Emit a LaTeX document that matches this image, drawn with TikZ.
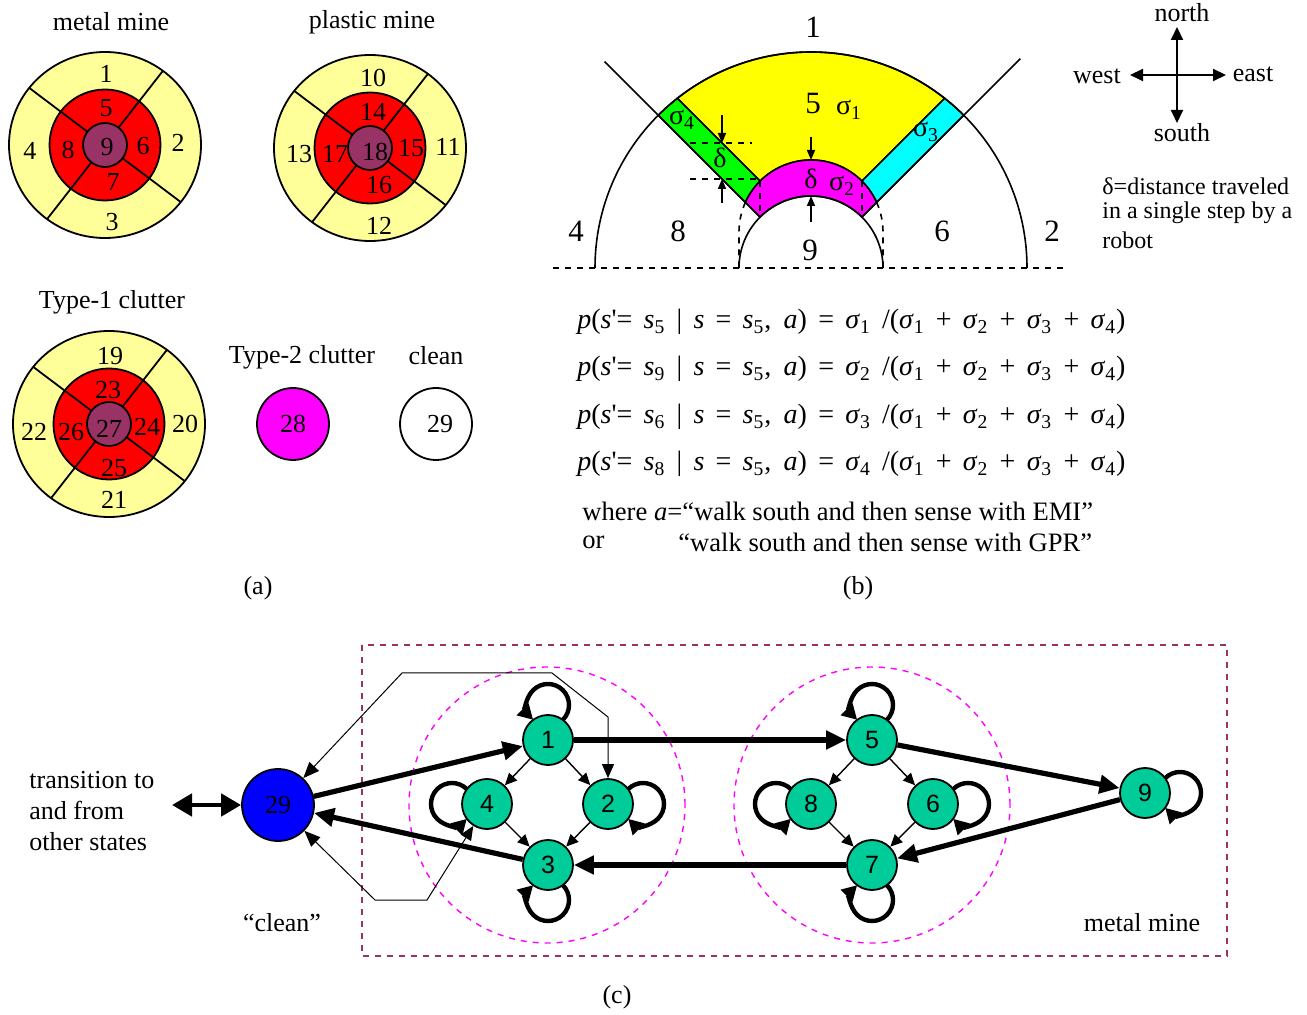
\documentclass[tikz,border=0pt]{standalone}
\usepackage{fontspec}
\setmainfont{Liberation Serif}
\newfontfamily\helvfont{Liberation Sans}
\usetikzlibrary{arrows.meta,calc}
\definecolor{rimyellow}{HTML}{FFFF99}
\definecolor{corered}{HTML}{FF0000}
\definecolor{hubplum}{HTML}{993366}
\definecolor{stgreen}{HTML}{00CC99}
\definecolor{pyellow}{HTML}{FFFF00}
\definecolor{pgreen}{HTML}{00FF00}
\definecolor{pcyan}{HTML}{00FFFF}
\definecolor{pmagenta}{HTML}{FF00FF}
\definecolor{pblue}{HTML}{0000FF}
\newcommand{\ssub}[1]{\textit{s}\textsubscript{#1}}
\newcommand{\isig}[1]{\textit{σ}\textsubscript{#1}}
\newcommand{\usig}[1]{σ\textsubscript{#1}}

\begin{document}
\begin{tikzpicture}[x=0.5pt,y=-0.5pt,font=\fontsize{13}{15.3}\selectfont,
  ring/.style={line width=0.9pt},
  num/.style={inner sep=0pt},
  bnum/.style={inner sep=0pt,font=\fontsize{15.5}{17}\selectfont},
  gk/.style={inner sep=0pt,font=\fontsize{14}{16}\selectfont},
  darr/.style={-{Triangle[length=5pt,width=4pt]},line width=0.8pt},
  carr/.style={-{Triangle[length=6.5pt,width=6pt]},line width=1pt},
  eqn/.style={anchor=west,inner sep=0pt,font=\fontsize{14}{16}\selectfont},
  st/.style={circle,draw,line width=0.9pt,fill=stgreen,minimum size=25pt,inner sep=0pt,
             font=\helvfont\fontsize{12.5}{13}\selectfont},
  thk/.style={line width=2.6pt,-{Triangle[length=10pt,width=9pt]}},
  thn/.style={line width=0.7pt,-{Triangle[length=6pt,width=5.5pt]}},
  sloop/.style={line width=2.2pt,-{Triangle[length=7.5pt,width=8pt]}},
  lnk/.style={line width=0.5pt,{Triangle[length=8pt,width=6.5pt]}-{Triangle[length=7pt,width=6pt]}},
  dbl/.style={line width=2.4pt,{Triangle[length=10pt,width=11pt]}-{Triangle[length=10pt,width=11pt]}},
  grp/.style={circle,draw=pmagenta,dashed,line width=0.7pt,minimum size=138pt,inner sep=0pt}]
\useasboundingbox (0,0) rectangle (1307,1015);

% (a) mine, clutter and clean states
\foreach \cx/\cy/\nm in {105/145/mm, 370/148/pm, 109/424/tc} {
  \coordinate (\nm) at (\cx,\cy);
  \draw[ring,fill=rimyellow] (\nm) ellipse [x radius=48pt, y radius=46.5pt];
  \draw[ring,fill=corered] (\nm) circle (27.75pt);
  \draw[ring] ($(\nm)+(52:47pt)$) -- ($(\nm)+(232:47pt)$);
  \draw[ring] ($(\nm)+(143:47.5pt)$) -- ($(\nm)+(323:47.5pt)$);
  \draw[ring,fill=hubplum] (\nm) circle (11pt);
}
\node (tmm) at (111,22) {metal mine};
\node (tpm) at (372,22) {plastic mine};
\node (ttc) at (112,302) {Type-1 clutter};
\node (ttw) at (302,357) {Type-2 clutter};
\node (tcl) at (436,356) {clean};
\foreach \n/\x/\y in {1/106/74, 2/178/143, 3/112/222, 4/30/151, 5/106/108, 6/143/146, 7/113/182,
    8/68/150, 9/107/147, 10/373/78, 11/448/147, 12/379/226, 13/299/154, 14/373/112, 15/411/148,
    16/379/185, 17/335/154, 18/375/152, 19/110/356, 20/185/424, 21/114/500, 22/34/432,
    23/108/390, 24/147/427, 25/114/468, 26/71/432, 27/109/429}
  \node[num] (a\n) at (\x,\y) {\n};
\node[circle,ring,draw,fill=pmagenta,minimum size=36pt] (a28) at (293,424) {28};
\node[circle,ring,draw,fill=white,minimum size=36pt] (a29) at (436,424) {\hspace{4pt}29};

% (b) neighbourhood of state 5 for a south step
\coordinate (bc) at (811,268);
\coordinate (bs) at (811,232);
\begin{scope}[line width=0.8pt]
\filldraw[fill=pyellow] ($(bs)+(135:36pt)$) -- ($(bc)+(128.23:108pt)$)
  arc[start angle=128.23,end angle=51.77,radius=108pt] -- ($(bs)+(45:36pt)$)
  arc[start angle=45,end angle=135,radius=36pt] -- cycle;
\filldraw[fill=pgreen] ($(bc)+(135:108pt)$) arc[start angle=135,end angle=128.23,radius=108pt]
  -- ($(bs)+(135:36pt)$) arc[start angle=135,end angle=155.7,radius=36pt] -- cycle;
\filldraw[fill=pcyan] ($(bc)+(45:108pt)$) arc[start angle=45,end angle=51.77,radius=108pt]
  -- ($(bs)+(45:36pt)$) arc[start angle=45,end angle=24.3,radius=36pt] -- cycle;
\filldraw[fill=pmagenta] ($(bs)+(155.7:36pt)$) arc[start angle=155.7,end angle=24.3,radius=36pt]
  -- ($(bc)+(45:36pt)$) arc[start angle=45,end angle=135,radius=36pt] -- cycle;
\draw ($(bc)+(0:108pt)$) arc[start angle=0,end angle=180,radius=108pt];
\draw ($(bc)+(0:36pt)$) arc[start angle=0,end angle=180,radius=36pt];
\draw ($(bc)+(135:36pt)$) -- ($(bc)+(135:146pt)$);
\draw ($(bc)+(45:36pt)$) -- ($(bc)+(45:148pt)$);
\draw[dashed] (553,268) -- (1067,268);
\draw[dashed] ($(bs)+(135:36pt)$) -- ($(bc)+(135:36pt)$);
\draw[dashed] ($(bs)+(45:36pt)$) -- ($(bc)+(45:36pt)$);
\draw[dashed] ($(bs)+(155.7:36pt)$) arc[start angle=155.7,end angle=180,radius=36pt] -- ++(0,36);
\draw[dashed] ($(bs)+(24.3:36pt)$) arc[start angle=24.3,end angle=0,radius=36pt] -- ++(0,36);
\draw[dashed] (690,143) -- (752,143);
\draw[dashed] (690,179) -- (758,179);
\end{scope}
\draw[darr] (722,115) -- (722,143);
\draw[darr] (722,203) -- (722,179);
\draw[darr] (811,137) -- (811,160);
\draw[darr] (811,222) -- (811,196);
\foreach \n/\x/\y in {1/813/27, 5/813/104, 4/576/231, 8/678/231, 9/810/250, 6/942/231, 2/1052/231}
  \node[bnum] (b\n) at (\x,\y) {\n};
\node[gk] (bsg1) at (849,110) {\usig{1}};
\node[gk] (bsg2) at (842,186) {\usig{2}};
\node[gk] (bsg3) at (926,132) {\usig{3}};
\node[gk] (bsg4) at (682,120) {\usig{4}};
\node[gk] (bdl1) at (720,158) {δ};
\node[gk] (bdl2) at (811,179) {δ};

% compass and step note
\coordinate (cc) at (1177,75);
\coordinate (cn) at (1177,27);
\coordinate (cs) at (1177,123);
\coordinate (cw) at (1130,75);
\coordinate (ce) at (1226,75);
\foreach \d in {cn,cs,cw,ce} \draw[carr] (cc) -- (\d);
\node (north) at (1182,13) {north};
\node (south) at (1182,133) {south};
\node (west) at (1097,76) {west};
\node (east) at (1253,74) {east};
\node[anchor=west,inner sep=0pt,font=\fontsize{12}{13}\selectfont] (note1) at (1102,186) {δ=distance traveled};
\node[anchor=west,inner sep=0pt,font=\fontsize{12}{13}\selectfont] (note2) at (1102,213) {in a single step by a};
\node[anchor=west,inner sep=0pt,font=\fontsize{12}{13}\selectfont] (note3) at (1102,240) {robot};

% transition probabilities
\foreach \kk/\sn/\y in {1/5/322, 2/9/369, 3/6/417, 4/8/464}
  \node[eqn] (eq\kk) at (577,\y) {\makebox[274pt][s]{\textit{p}(\textit{s}\textquotesingle= \ssub{\sn} | \textit{s} = \ssub{5}, \textit{a}) = \isig{\kk} /(\isig{1} + \isig{2} + \isig{3} + \isig{4})}};
\node[anchor=west,inner sep=0pt,font=\fontsize{13.3}{15}\selectfont] (where) at (582,511) {where \textit{a}=“walk south and then sense with EMI”};
\node[anchor=west,inner sep=0pt,font=\fontsize{13.3}{15}\selectfont] (orw) at (582,542) {or};
\node[anchor=west,inner sep=0pt,font=\fontsize{13.3}{15}\selectfont] (gpr) at (678,542) {“walk south and then sense with GPR”};

\node (pa) at (258,588) {(a)};
\node (pb) at (858,588) {(b)};

% (c) state graph
\draw[draw=hubplum,dashed,line width=0.9pt] (362,645) rectangle (1227,956);
\node[grp] (g1) at (547,805) {};
\node[grp] (g2) at (872,805) {};
\node[st] (n1) at (548,740) {1};
\node[st] (n2) at (608,804) {2};
\node[st] (n3) at (548,865) {3};
\node[st] (n4) at (487,804) {4};
\node[st] (n5) at (872,740) {5};
\node[st] (n6) at (933,804) {6};
\node[st] (n7) at (872,865) {7};
\node[st] (n8) at (811,804) {8};
\node[st] (n9) at (1145,793) {9};
\node[circle,draw,line width=0.9pt,fill=pblue,minimum size=36pt,inner sep=0pt] (n29) at (278,805) {29};

\draw[thk] (n29) -- (n1);
\draw[thk] (n3) -- (n29);
\draw[thk] (n1) -- (n5);
\draw[thk] (n5) -- (n9);
\draw[thk] (n9) -- (n7);
\draw[thk] (n7) -- (n3);
\foreach \a/\b in {1/4,1/2,4/3,2/3,5/8,5/6,8/7,6/7} \draw[thn] (n\a) -- (n\b);
% self loops: side, start angle, sweep
\foreach \m/\t/\sa/\da in {1/90/-45/270, 5/90/-45/270, 4/180/45/270, 8/180/45/270,
    2/0/135/-270, 6/0/135/-270, 9/0/135/-270, 3/-90/45/-270, 7/-90/45/-270}
  \draw[sloop] ($(n\m)+(\t:17.5pt)+(\sa:10.5pt)$) arc[start angle=\sa,delta angle=\da,radius=10.5pt];

\coordinate (t1) at (402,673);
\coordinate (t2) at (552,673);
\coordinate (t3) at (608,717);
\draw[lnk] (n29) -- (t1) -- (t2) -- (t3) -- (n2);
\coordinate (u1) at (375,900);
\coordinate (u2) at (427,900);
\draw[lnk] (n29) -- (u1) -- (u2) -- (n4);
\coordinate (ext) at (172,805);
\draw[dbl] (ext) -- (n29);

\node[align=left,anchor=west,inner sep=0pt] (other) at (29,811) {transition to\\and from\\other states};
\node (clean) at (282,923) {“clean”};
\node (mmine) at (1142,923) {metal mine};
\node (pc) at (617,997) {(c)};
\end{tikzpicture}
\end{document}
